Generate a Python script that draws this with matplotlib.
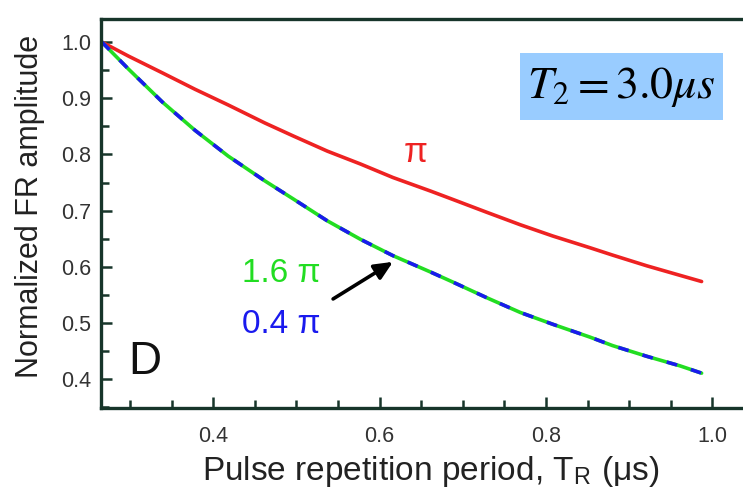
import matplotlib.pyplot as plt
from matplotlib.patches import Rectangle
from matplotlib.ticker import MultipleLocator

plt.rcParams['font.family'] = ['Liberation Sans', 'DejaVu Sans']
plt.rcParams['mathtext.fontset'] = 'stix'

# pulse repetition period T_R (us)
t_r = [0.266, 0.298, 0.339, 0.378, 0.418, 0.462, 0.496, 0.537, 0.577, 0.616,
       0.661, 0.688, 0.729, 0.769, 0.808, 0.853, 0.880, 0.921, 0.961, 0.987]
# normalized FR amplitude
amp_pi = [1.0, 0.975, 0.945, 0.916, 0.888, 0.856, 0.833, 0.806, 0.783, 0.759,
          0.735, 0.720, 0.697, 0.675, 0.655, 0.634, 0.621, 0.602, 0.585, 0.574]
amp_04 = [1.0, 0.952, 0.893, 0.843, 0.797, 0.753, 0.721, 0.682, 0.649, 0.620,
          0.591, 0.573, 0.545, 0.519, 0.498, 0.475, 0.460, 0.441, 0.424, 0.411]
amp_16 = amp_04[:]  # the 1.6 pi curve lies on top of 0.4 pi

xticks = [0.4, 0.6, 0.8, 1.0]
yticks = [0.4, 0.5, 0.6, 0.7, 0.8, 0.9, 1.0]

fig = plt.figure(figsize=(7.43, 5.01), dpi=100)
ax = fig.add_axes([101/743, 93/501, 653/743, 389/501])

ax.plot(t_r, amp_pi, color='#ee2222', lw=2.6, solid_capstyle='round')
ax.plot(t_r, amp_16, color='#22dd22', lw=2.6, solid_capstyle='round')
ax.plot(t_r, amp_04, color='#1a1aee', lw=2.6, dashes=(3, 4))

ax.set_xlim(0.265, 1.05)
ax.set_ylim(0.349, 1.041)
ax.set_xticks(xticks)
ax.set_yticks(yticks)
ax.xaxis.set_minor_locator(MultipleLocator(0.05))
ax.yaxis.set_minor_locator(MultipleLocator(0.05))
ax.tick_params(which='both', direction='in', color='#17352a', width=1.8,
               labelsize=15.5, labelcolor='#333333')
ax.tick_params(which='major', length=8)
ax.tick_params(which='minor', length=6)
ax.tick_params(axis='y', pad=7)
ax.tick_params(axis='x', pad=13)
for s in ax.spines.values():
    s.set_color('#17352a')
    s.set_linewidth(2.4)

ax.set_xlabel(r'Pulse repetition period, T$_\mathregular{R}$ ($\mathregular{\mu}$s)',
              fontsize=24, color='#222222')
ax.set_ylabel('Normalized FR amplitude', fontsize=22, color='#222222')
ax.xaxis.set_label_coords(0.505, -0.118)
ax.yaxis.set_label_coords(-0.085, 0.517)

ax.text(0.643, 0.804, 'π', color='#ee2222', fontsize=25, ha='center', va='center')
ax.text(0.482, 0.589, '1.6 π', color='#22dd22', fontsize=24, ha='center', va='center')
ax.text(0.482, 0.498, '0.4 π', color='#1a1aee', fontsize=24, ha='center', va='center')
ax.text(0.318, 0.431, 'D', color='#111111', fontsize=33, ha='center', va='center')
ax.annotate('', xy=(0.616, 0.609), xytext=(0.544, 0.543),
            arrowprops=dict(arrowstyle='-|>,head_length=1.1,head_width=0.5',
                            color='black', lw=2.6, shrinkA=0, shrinkB=0))

# T2 label box
fig.patches.append(Rectangle((520/743, 1 - 120/501), 203/743, 67/501,
                             transform=fig.transFigure, fc='#99ccff', ec='none'))
fig.text(621/743, 1 - 87/501, r'$T_2 = 3.0\mu s$', fontsize=33, ha='center', va='center')

fig.savefig('out.png', dpi=100)
